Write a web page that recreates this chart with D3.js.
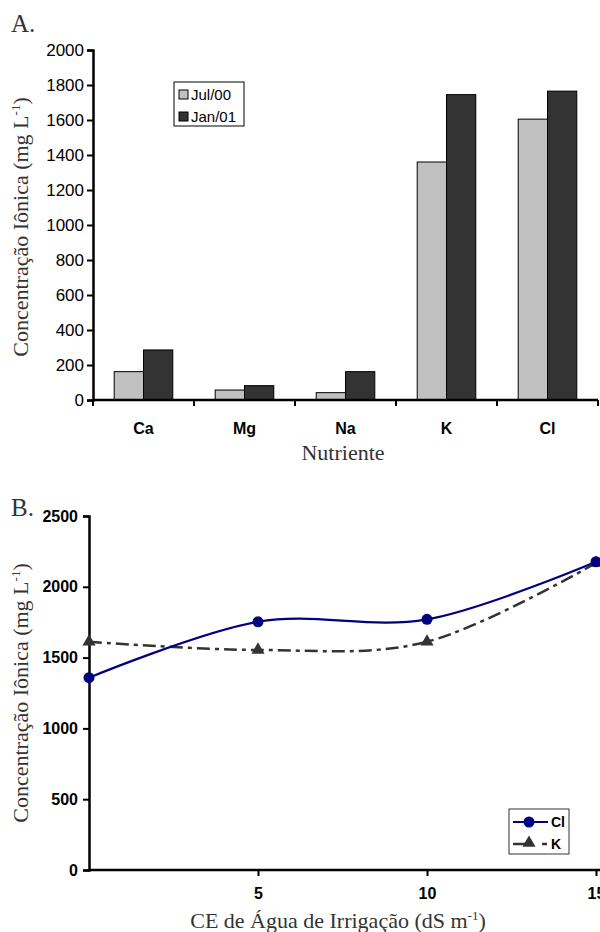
<!DOCTYPE html>
<html>
<head>
<meta charset="utf-8">
<script src="https://cdn.jsdelivr.net/npm/d3@7"></script>
<style>
body { margin: 0; background: #fff; }
svg { display: block; }
.serif { font-family: "Liberation Serif", "Times New Roman", serif; fill: #333; }
.sans { font-family: "Liberation Sans", Arial, sans-serif; fill: #000; }
</style>
</head>
<body>
<div id="charts"></div>
<script>
// data for panel A (bars)
let nutrients = ["Ca", "Mg", "Na", "K", "Cl"];
let julValues = [162, 57, 42, 1360, 1605];
let janValues = [286, 82, 162, 1745, 1765];
let seriesA = ["Jul/00", "Jan/01"];
let yTicksA = [0, 200, 400, 600, 800, 1000, 1200, 1400, 1600, 1800, 2000];

// data for panel B (lines)
let ceValues = [0, 5, 10, 15];
let clValues = [1358, 1753, 1770, 2177];
let kValues = [1612, 1554, 1612, 2168];
let xTicksB = [5, 10, 15];
let yTicksB = [0, 500, 1000, 1500, 2000, 2500];

let w = 600;
let h = 932;
let sans = "sans";

let svg = d3.select("#charts")
    .append("svg")
    .attr("width", w)
    .attr("height", h);

// ---------- panel A ----------
svg.append("text")
    .attr("class", "serif")
    .attr("x", 11)
    .attr("y", 32)
    .style("font-size", "25px")
    .text("A.");

let xA = d3.scaleBand()
    .domain(nutrients)
    .range([93, 598])
    .paddingInner(0.42)
    .paddingOuter(0.21);

let yA = d3.scaleLinear()
    .domain([0, 2000])
    .range([400, 50]);

let sub = d3.scaleBand()
    .domain(seriesA)
    .range([0, xA.bandwidth()]);

let colorA = d3.scaleOrdinal()
    .domain(seriesA)
    .range(["#c0c0c0", "#333333"]);

let barData = nutrients.map(function (n, i) {
    return { name: n, values: [{ key: "Jul/00", value: julValues[i] }, { key: "Jan/01", value: janValues[i] }] };
});

svg.append("g")
    .selectAll("g")
    .data(barData)
    .enter()
    .append("g")
    .attr("transform", function (d) { return "translate(" + xA(d.name) + ",0)"; })
    .selectAll("rect")
    .data(function (d) { return d.values; })
    .enter().append("rect")
    .attr("x", function (d) { return sub(d.key); })
    .attr("y", function (d) { return yA(d.value); })
    .attr("width", sub.bandwidth())
    .attr("height", function (d) { return yA(0) - yA(d.value); })
    .attr("fill", function (d) { return colorA(d.key); })
    .attr("stroke", "#000")
    .attr("stroke-width", 1);

// y axis A
let yAxisA = svg.append("g")
    .attr("transform", "translate(93,0)")
    .call(d3.axisLeft(yA).tickValues(yTicksA).tickFormat(d3.format("d")).tickSize(6).tickPadding(3));
yAxisA.select(".domain").attr("stroke-width", 2.5);
yAxisA.selectAll(".tick line").attr("stroke-width", 2);
yAxisA.selectAll("text")
    .attr("class", sans)
    .style("font-size", "17px");

// x axis A: ticks on band boundaries
let bounds = d3.range(nutrients.length + 1).map(function (i) { return xA.range()[0] + i * xA.step(); });
let xAxisA = svg.append("g");
xAxisA.append("line")
    .attr("x1", xA.range()[0]).attr("x2", xA.range()[1])
    .attr("y1", yA(0)).attr("y2", yA(0))
    .attr("stroke", "#000").attr("stroke-width", 2.5);
xAxisA.selectAll(".btick")
    .data(bounds)
    .enter().append("line")
    .attr("x1", function (d) { return d; }).attr("x2", function (d) { return d; })
    .attr("y1", yA(0)).attr("y2", yA(0) + 6)
    .attr("stroke", "#000").attr("stroke-width", 2);
xAxisA.selectAll(".cat")
    .data(nutrients)
    .enter().append("text")
    .attr("class", sans)
    .attr("x", function (d) { return xA(d) + xA.bandwidth() / 2; })
    .attr("y", 434)
    .attr("text-anchor", "middle")
    .style("font-size", "16px")
    .style("font-weight", "bold")
    .text(function (d) { return d; });

svg.append("text")
    .attr("class", "serif")
    .attr("x", 343)
    .attr("y", 460)
    .attr("text-anchor", "middle")
    .style("font-size", "22px")
    .text("Nutriente");

// rotated y label with superscript
function yLabel(cy) {
    let t = svg.append("text")
        .attr("class", "serif")
        .attr("transform", "translate(28," + cy + ") rotate(-90)")
        .attr("text-anchor", "middle")
        .style("font-size", "22px");
    t.append("tspan").text("Concentração Iônica (mg L");
    t.append("tspan").attr("dy", -8).style("font-size", "13px").text("-1");
    t.append("tspan").attr("dy", 8).text(")");
}
yLabel(227);

// legend A
let legA = svg.append("g");
legA.append("rect")
    .attr("x", 174).attr("y", 82)
    .attr("width", 70).attr("height", 44)
    .attr("fill", "#fff").attr("stroke", "#000").attr("stroke-width", 1);
seriesA.forEach(function (s, i) {
    legA.append("rect")
        .attr("x", 179).attr("y", 90 + i * 22)
        .attr("width", 9).attr("height", 9)
        .attr("fill", colorA(s)).attr("stroke", "#000");
    legA.append("text")
        .attr("class", sans)
        .attr("x", 191).attr("y", 100 + i * 22)
        .style("font-size", "15px")
        .text(s);
});

// ---------- panel B ----------
svg.append("text")
    .attr("class", "serif")
    .attr("x", 11)
    .attr("y", 516)
    .style("font-size", "25px")
    .text("B.");

let xB = d3.scaleLinear()
    .domain([0, 15])
    .range([89, 596]);

let yB = d3.scaleLinear()
    .domain([0, 2500])
    .range([870, 516]);

let yAxisB = svg.append("g")
    .attr("transform", "translate(89,0)")
    .call(d3.axisLeft(yB).tickValues(yTicksB).tickFormat(d3.format("d")).tickSize(6).tickPadding(5));
yAxisB.select(".domain").attr("stroke-width", 2.5);
yAxisB.selectAll(".tick line").attr("stroke-width", 2);
yAxisB.selectAll("text")
    .attr("class", sans)
    .style("font-size", "16px")
    .style("font-weight", "bold");

let xAxisB = svg.append("g")
    .attr("transform", "translate(0,870)")
    .call(d3.axisBottom(xB).tickValues(xTicksB).tickSize(6).tickPadding(12));
xAxisB.select(".domain").attr("stroke-width", 2.5).attr("d", "M89,0H600");
xAxisB.selectAll(".tick line").attr("stroke-width", 2);
xAxisB.selectAll("text")
    .attr("class", sans)
    .style("font-size", "16px")
    .style("font-weight", "bold");

let xl = svg.append("text")
    .attr("class", "serif")
    .attr("x", 338)
    .attr("y", 928)
    .attr("text-anchor", "middle")
    .style("font-size", "22px");
xl.append("tspan").text("CE de Água de Irrigação (dS m");
xl.append("tspan").attr("dy", -8).style("font-size", "13px").text("-1");
xl.append("tspan").attr("dy", 8).text(")");

yLabel(693);

let line = d3.line()
    .x(function (d) { return xB(d[0]); })
    .y(function (d) { return yB(d[1]); })
    .curve(d3.curveCardinal.tension(0));

let kPts = ceValues.map(function (c, i) { return [c, kValues[i]]; });
let clPts = ceValues.map(function (c, i) { return [c, clValues[i]]; });
let kDash = "13,5,4,5";

svg.append("path")
    .attr("d", line(kPts))
    .attr("fill", "none")
    .attr("stroke", "#333")
    .attr("stroke-width", 2.5)
    .attr("stroke-dasharray", kDash);

svg.append("path")
    .attr("d", line(clPts))
    .attr("fill", "none")
    .attr("stroke", "#000080")
    .attr("stroke-width", 2.2);

let tri = d3.symbol().type(d3.symbolTriangle).size(75);

svg.append("g")
    .selectAll("path")
    .data(kPts)
    .enter().append("path")
    .attr("d", tri)
    .attr("transform", function (d) { return "translate(" + xB(d[0]) + "," + yB(d[1]) + ")"; })
    .attr("fill", "#333");

svg.append("g")
    .selectAll("circle")
    .data(clPts)
    .enter().append("circle")
    .attr("cx", function (d) { return xB(d[0]); })
    .attr("cy", function (d) { return yB(d[1]); })
    .attr("r", 5.5)
    .attr("fill", "#000080");

// legend B
let legB = svg.append("g");
legB.append("rect")
    .attr("x", 509).attr("y", 809)
    .attr("width", 60).attr("height", 45)
    .attr("fill", "#fff").attr("stroke", "#333").attr("stroke-width", 1);
legB.append("line")
    .attr("x1", 513).attr("x2", 548).attr("y1", 822).attr("y2", 822)
    .attr("stroke", "#000080").attr("stroke-width", 2.2);
legB.append("circle")
    .attr("cx", 529).attr("cy", 822).attr("r", 5.5).attr("fill", "#000080");
legB.append("line")
    .attr("x1", 513).attr("x2", 548).attr("y1", 844).attr("y2", 844)
    .attr("stroke", "#333").attr("stroke-width", 2.5)
    .attr("stroke-dasharray", "20,9,5,5");
legB.append("path")
    .attr("d", tri)
    .attr("transform", "translate(529,843)")
    .attr("fill", "#333");
legB.append("text")
    .attr("class", sans)
    .attr("x", 551).attr("y", 827)
    .style("font-size", "14px").style("font-weight", "bold")
    .text("Cl");
legB.append("text")
    .attr("class", sans)
    .attr("x", 551).attr("y", 849)
    .style("font-size", "14px").style("font-weight", "bold")
    .text("K");
</script>
</body>
</html>
